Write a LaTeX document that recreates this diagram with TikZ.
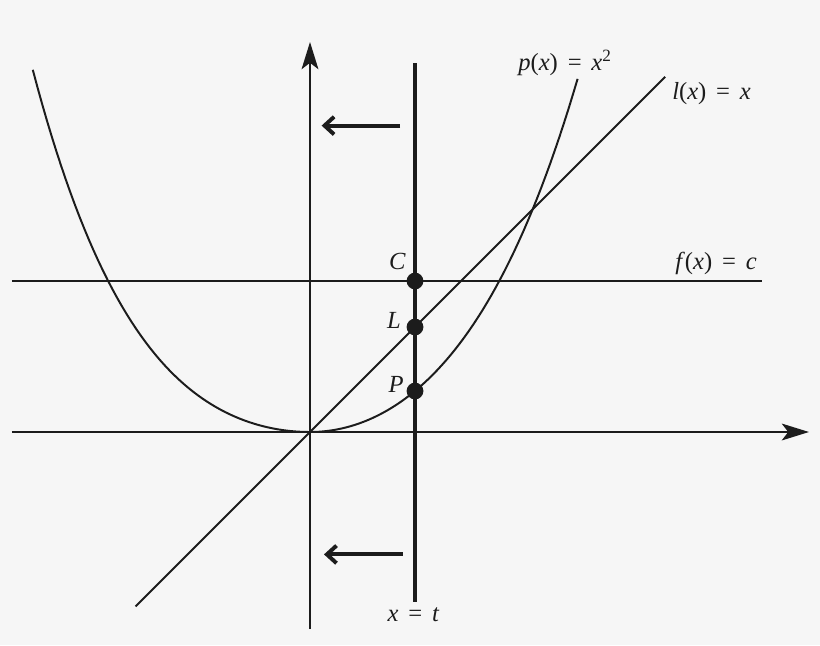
\documentclass[tikz,border=0pt]{standalone}
\usepackage{fontspec}
\setmainfont{Liberation Serif}
\usetikzlibrary{arrows.meta}
\definecolor{paper}{RGB}{246,246,246}
\definecolor{ink}{RGB}{28,28,28}
\newcommand{\eqs}{\hspace{.4em}=\hspace{.4em}}

\begin{document}
\begin{tikzpicture}[
		ink line/.style={draw=ink,line width=1.4pt},
		lab/.style={text=ink,font=\fontsize{17.5}{20}\selectfont,inner sep=0pt},
		dot/.style={circle,fill=ink,inner sep=0pt,minimum size=4.2mm},
		axis/.style={ink line,-{Stealth[length=6.8mm,width=4.2mm,inset=1.6mm]}},
		shift arrow/.style={draw=ink,line width=2.8pt,-{Straight Barb[length=2.4mm,width=4.4mm]}}]
	\fill[paper] (-7.75,-5.325) rectangle (12.75,10.8);
	\coordinate (x0) at (-7.45,0);
	\coordinate (x1) at (12.475,0);
	\coordinate (y0) at (0,-4.925);
	\coordinate (y1) at (0,9.75);
	\coordinate (f0) at (-7.45,3.775);
	\coordinate (f1) at (11.3,3.775);
	\coordinate (l0) at (-4.36,-4.36);
	\coordinate (l1) at (8.88,8.88);
	\coordinate (t0) at (2.625,-4.24);
	\coordinate (t1) at (2.625,9.23);
	\coordinate (a0) at (2.25,7.66);
	\coordinate (a1) at (0.29,7.66);
	\coordinate (b0) at (2.32,-3.06);
	\coordinate (b1) at (0.35,-3.06);
	\draw[axis] (x0) -- (x1);
	\draw[axis] (y0) -- (y1);
	\draw[ink line] (f0) -- (f1);
	\draw[ink line] (l0) -- (l1);
	\draw[ink line] plot[domain=-6.93:0,samples=60] (\x,{0.1028*\x*\x+0.00179*\x*\x*\x*\x})
		-- plot[domain=0:6.69,samples=60] (\x,{0.14*\x*\x+0.001275*\x*\x*\x*\x});
	\draw[draw=ink,line width=3.2pt] (t0) -- (t1);
	\draw[shift arrow] (a0) -- (a1);
	\draw[shift arrow] (b0) -- (b1);
	\foreach \n/\y/\dx/\dy in {C/3.775/-0.225/0.3, L/2.625/-0.35/-0.025, P/1.025/-0.275/-0.025}
	{\node[dot] (\n) at (2.625,\y) {};
		\node[lab,anchor=base east] (\n lab) at ([shift={(\dx,\dy)}]\n.center) {\textit{\n}};}
	\node[lab,anchor=base] (plab) at (6.375,9.05) {\textit{p}(\textit{x})\eqs\textit{x}\textsuperscript{2}};
	\node[lab,anchor=base west] (llab) at (9.05,8.32) {\textit{l}(\textit{x})\eqs\textit{x}};
	\node[lab,anchor=base west] (flab) at (9.125,4.07) {\textit{f}(\textit{x})\eqs\textit{c}};
	\node[lab,anchor=base] (tlab) at (2.59,-4.725) {\textit{x}\eqs\textit{t}};
\end{tikzpicture}
\end{document}
